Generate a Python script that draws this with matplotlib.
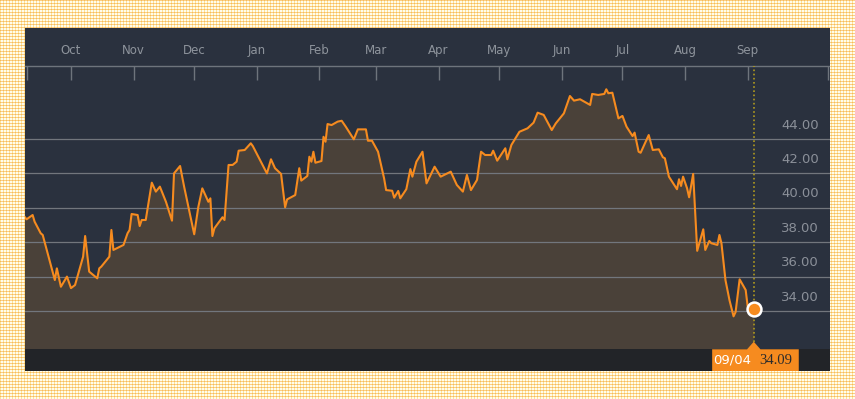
import matplotlib
matplotlib.use('Agg')
import matplotlib.pyplot as plt
import matplotlib.dates as mdates
from matplotlib.patches import Polygon
from matplotlib.transforms import blended_transform_factory
import numpy as np
import pandas as pd

# day offsets from 1 Oct 2014 and closing prices
start = pd.Timestamp('2014-10-01')
days = [-23, -22, -19, -18, -15, -14, -8, -7, -5, -2, 0, 2, 6, 7, 9, 13, 14, 15, 19, 20,
        21, 26, 28, 29, 30, 33, 34, 35, 37, 40, 42, 44, 47, 50, 51, 54, 56, 61, 63, 65,
        68, 69, 70, 71, 75, 76, 78, 80, 82, 83, 86, 89, 90, 97, 99, 101, 104, 106, 107, 111,
        113, 114, 117, 118, 119, 120, 121, 124, 125, 126, 127, 129, 132, 134, 136, 140, 142, 146, 147, 149,
        152, 155, 156, 159, 160, 162, 163, 166, 168, 169, 171, 174, 176, 180, 183, 188, 191, 194, 196, 198,
        201, 203, 205, 208, 209, 211, 215, 216, 218, 222, 226, 229, 231, 234, 238, 240, 244, 247, 249, 252,
        257, 258, 261, 264, 265, 266, 268, 271, 273, 275, 278, 279, 281, 282, 286, 288, 291, 293, 294, 296,
        300, 301, 302, 303, 305, 306, 308, 310, 313, 314, 316, 317, 320, 321, 322, 324, 326, 328, 329, 331,
        334, 335, 338]
prices = [39.48, 39.33, 39.58, 39.19, 38.52, 38.42, 35.80, 36.48, 35.41, 36.00, 35.33, 35.51, 37.16, 38.36, 36.29, 35.90, 36.48, 36.58, 37.16, 38.71,
          37.55, 37.84, 38.52, 38.71, 39.64, 39.58, 38.94, 39.29, 39.29, 41.46, 40.94, 41.23, 40.35, 39.25, 42.00, 42.43, 41.23, 38.46, 40.03, 41.13,
          40.35, 40.55, 38.36, 38.81, 39.45, 39.29, 42.49, 42.49, 42.68, 43.32, 43.36, 43.75, 43.59, 42.00, 42.82, 42.30, 41.97, 40.03, 40.49, 40.74,
          42.30, 41.58, 41.85, 42.97, 42.68, 43.26, 42.62, 42.72, 44.13, 43.84, 44.87, 44.81, 45.01, 45.06, 44.72, 43.98, 44.56, 44.56, 43.90, 43.90,
          43.26, 41.71, 41.03, 40.99, 40.59, 40.98, 40.55, 41.08, 42.25, 41.81, 42.68, 43.26, 41.42, 42.39, 41.81, 42.10, 41.33, 40.94, 41.91, 41.03,
          41.62, 43.26, 43.07, 43.07, 43.32, 42.74, 43.46, 42.82, 43.65, 44.42, 44.62, 44.95, 45.53, 45.40, 44.52, 44.91, 45.49, 46.50, 46.23, 46.31,
          45.98, 46.62, 46.56, 46.62, 46.89, 46.66, 46.69, 45.20, 45.34, 44.72, 44.17, 44.37, 43.26, 43.20, 44.23, 43.36, 43.40, 42.94, 42.88, 41.81,
          41.08, 41.66, 41.27, 41.81, 41.13, 40.61, 41.97, 37.50, 38.75, 37.55, 38.07, 37.94, 37.84, 38.42, 37.94, 35.79, 34.62, 33.69, 33.94, 35.84,
          35.22, 34.25, 34.09]
months = ['Oct', 'Nov', 'Dec', 'Jan', 'Feb', 'Mar', 'Apr', 'May', 'Jun', 'Jul', 'Aug', 'Sep']
month_starts = pd.date_range('2014-10-01', '2015-09-01', freq='MS')
grid_levels = [34, 36, 38, 40, 42, 44]
last_label = '09/04'
last_value = 34.09

dates = start + pd.to_timedelta(days, unit='D')
last_date = dates[-1]

ORANGE = '#f68b1f'
PANEL = '#2a313e'

fig = plt.figure(figsize=(8.55, 3.99), dpi=100)
fig.patch.set_facecolor('white')

# gingham-like dotted yellow border
H, W = 399, 855
bg = np.ones((H, W, 3)) * np.array([255, 251, 236]) / 255
rows = (np.arange(H) % 3 == 0)[:, None]
cols = (np.arange(W) % 3 == 0)[None, :]
bg[np.broadcast_to(rows, (H, W))] = np.array([251, 208, 132]) / 255
bg[np.broadcast_to(cols, (H, W))] = np.array([253, 228, 150]) / 255
bg[rows & cols] = np.array([246, 184, 94]) / 255
fig.figimage(bg, 0, 0, zorder=-10)

ax = fig.add_axes([25 / 855, 28 / 399, 805 / 855, 343 / 399])
ax.set_zorder(5)
ax.set_facecolor(PANEL)
for s in ax.spines.values():
    s.set_visible(False)
ax.set_xticks([])
ax.set_yticks([])

floor = 31.77
top_line = 48.244
ax.set_ylim(30.512, 50.453)
ax.set_xlim(start + pd.Timedelta(days=-22.77), start + pd.Timedelta(days=375.74))

ax.fill_between(dates, prices, floor, color='#4a4139', lw=0, zorder=1)
for lvl in grid_levels:
    ax.axhline(lvl, color='#72767d', lw=0.9, zorder=2)
ax.plot(dates, prices, color=ORANGE, lw=1.5, zorder=3, solid_joinstyle='round')

# bottom strip
ax.axhspan(30.512, floor, color='#222428', lw=0, zorder=4)

# month axis at top
ax.axhline(top_line, color='#6e747c', lw=1.0, zorder=2)
ax.vlines(month_starts, 47.45, top_line, color='#6e747c', lw=1.0, zorder=2)
ax.vlines([start + pd.Timedelta(days=-21.9), start + pd.Timedelta(days=374.8)],
          47.45, top_line, color='#6e747c', lw=1.0, zorder=2)
for m, d in zip(months, month_starts):
    ax.text(d, 49.12, m, ha='center', va='center', fontsize=8.5, color='#8e949c')

# price labels on the right
tr = blended_transform_factory(ax.transAxes, ax.transData)
for lvl in grid_levels:
    ax.text(0.9863, lvl + 0.81, f'{lvl:.2f}', transform=tr, ha='right', va='center',
            fontsize=9.5, color='#8b9099')

# cursor line, marker and label
ax.vlines(last_date, 32.2, top_line, color='#b09a1e', lw=1.2, linestyles=(0, (1, 1.5)), zorder=5)
ax.plot([last_date], [last_value], 'o', ms=10, mfc=ORANGE, mec='white', mew=1.8, zorder=6)

xn = mdates.date2num(last_date)
px = 1 / 2.02  # days per pixel
btr = blended_transform_factory(ax.transData, ax.transAxes)
box = Polygon([(xn - 41.6 * px, 0), (xn + 45 * px, 0), (xn + 45 * px, 0.0633),
               (xn + 6.7 * px, 0.0633), (xn, 0.0854), (xn - 6.7 * px, 0.0633),
               (xn - 41.6 * px, 0.0633)], closed=True, transform=btr,
              facecolor=ORANGE, edgecolor='none', zorder=7)
ax.add_patch(box)
ax.text(xn - 21.6 * px, 0.031, last_label, transform=btr, ha='center', va='center',
        fontsize=9.5, color='white', zorder=8)
ax.text(xn + 21.7 * px, 0.031, f'{last_value:.2f}', transform=btr, ha='center', va='center',
        fontsize=10.5, color='#2b2b2b', family='Liberation Serif', zorder=8)

fig.savefig('out.png', dpi=100)
